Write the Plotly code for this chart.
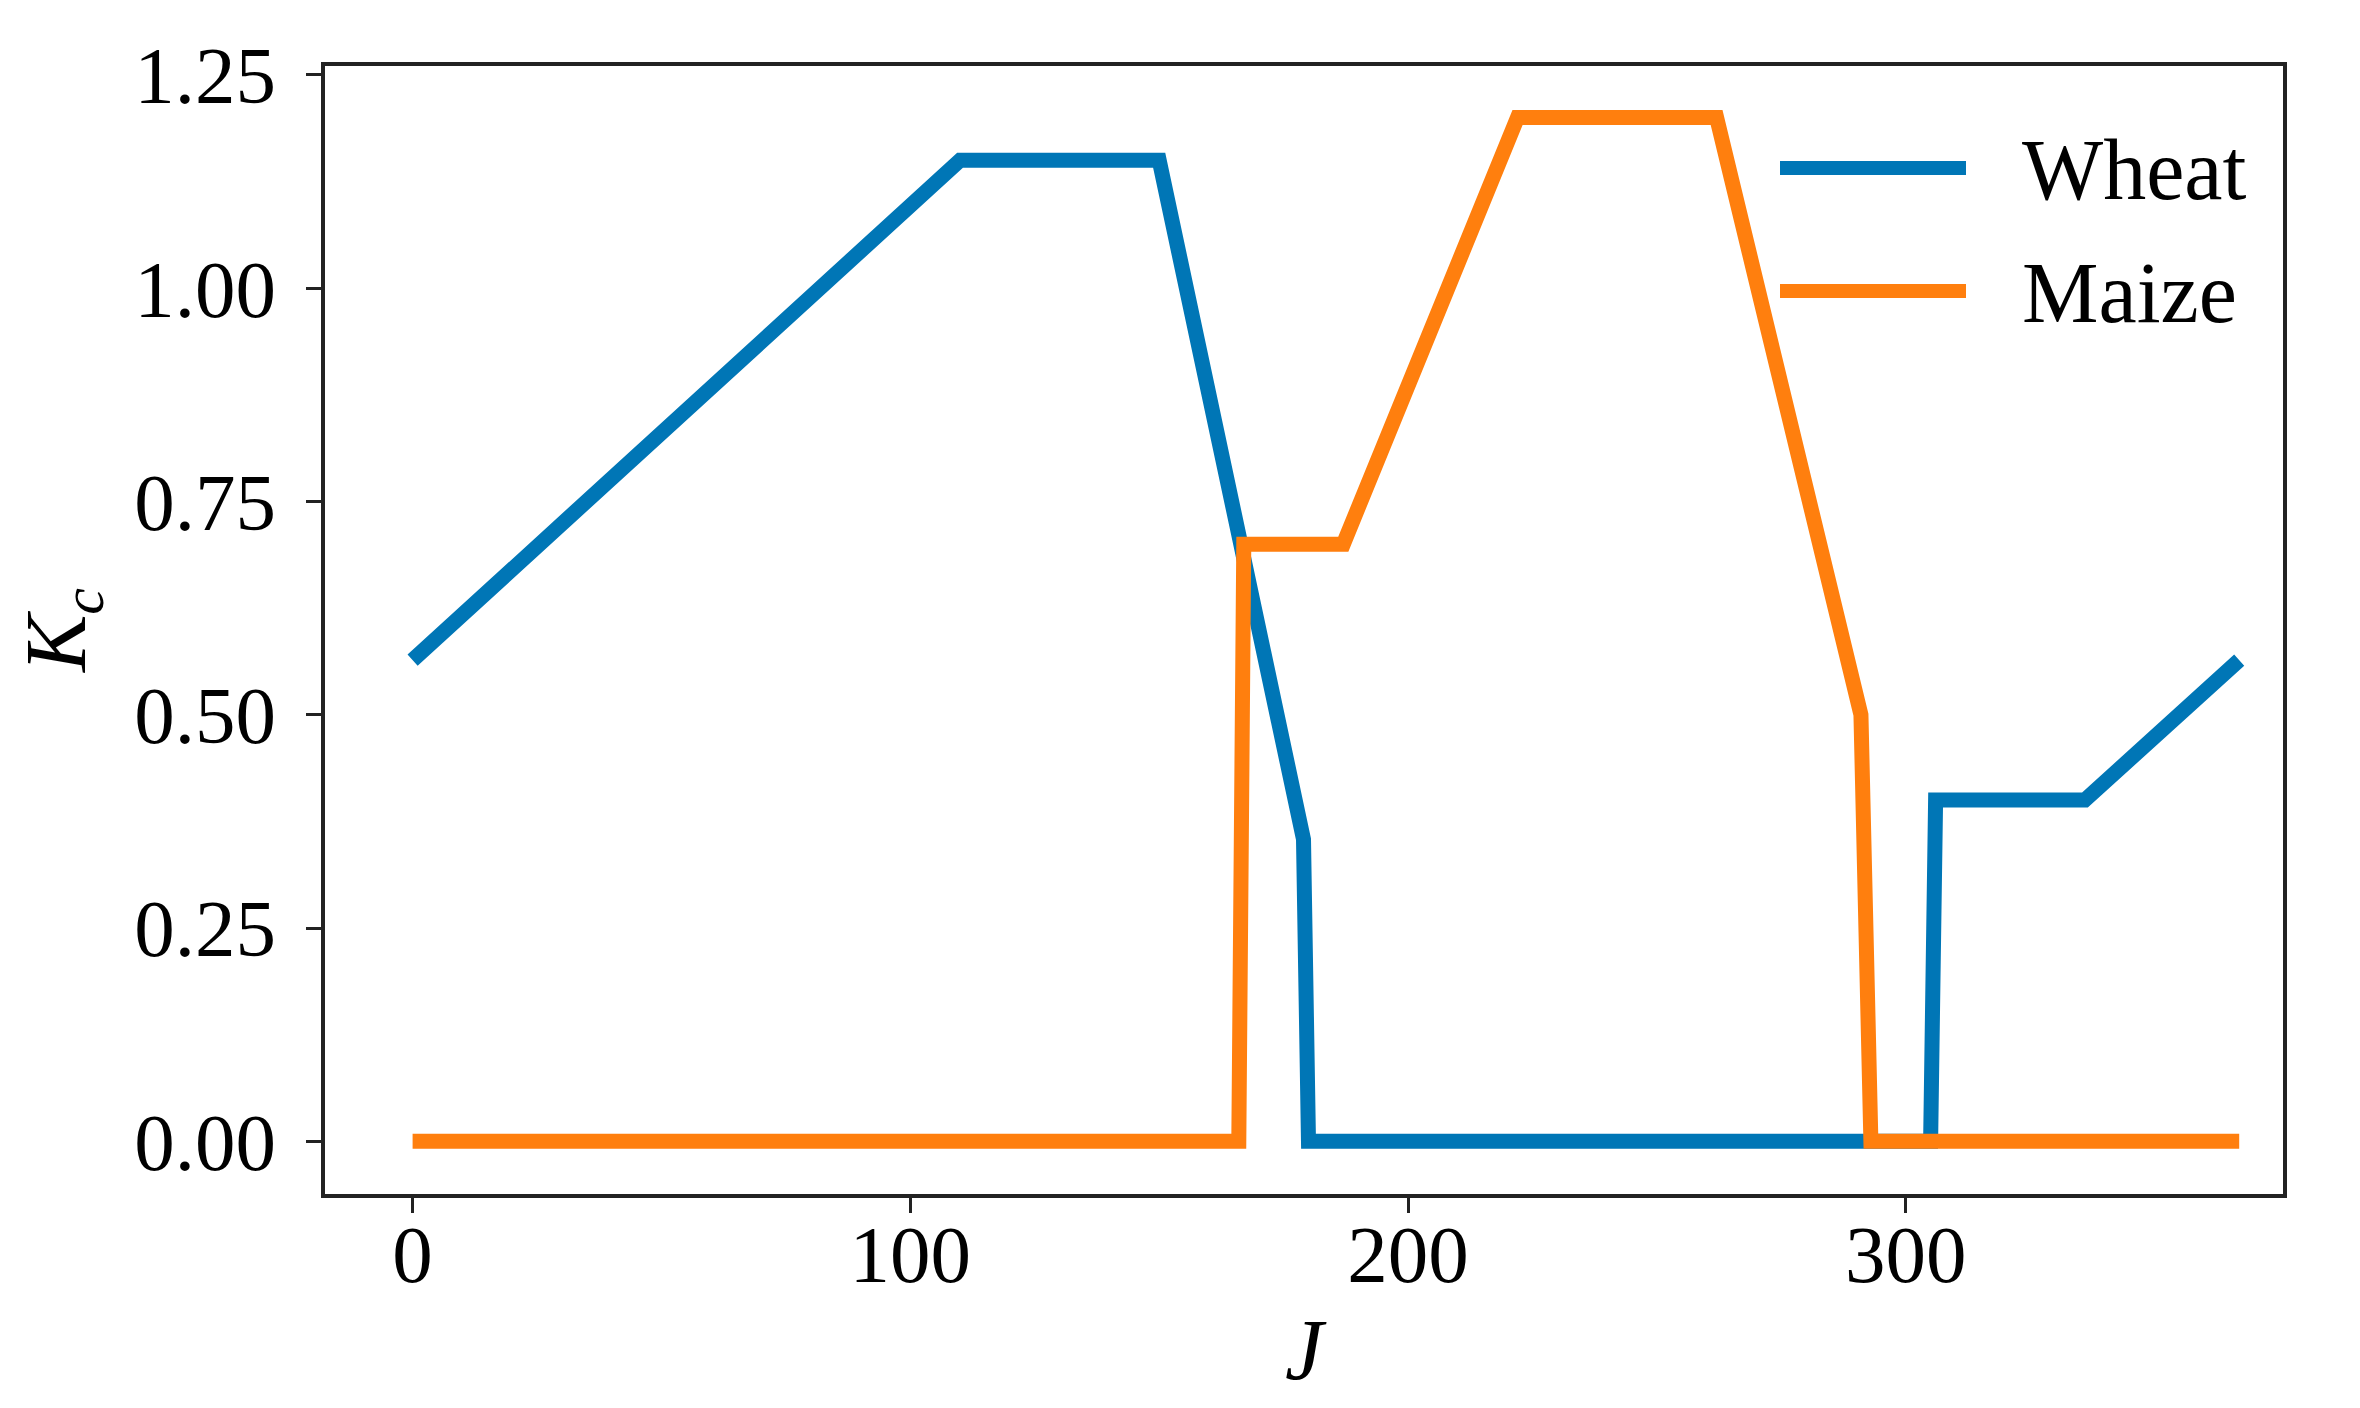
import plotly.graph_objects as go

# Day of year (J) breakpoints and crop coefficient (Kc) values
wheat_j = [0, 110, 150, 179, 180, 305, 306, 336, 367]
wheat_kc = [0.564, 1.15, 1.15, 0.354, 0.0, 0.0, 0.40, 0.40, 0.564]

maize_j = [0, 166, 167, 187, 222, 262, 291, 293, 367]
maize_kc = [0.0, 0.0, 0.70, 0.70, 1.20, 1.20, 0.50, 0.0, 0.0]

series_names = ["Wheat", "Maize"]
series_colors = ["#0076b6", "#ff7f0e"]

x_ticks = [0, 100, 200, 300]
y_ticks = [0.0, 0.25, 0.50, 0.75, 1.00, 1.25]

FONT = "Liberation Serif"
FS_TICK = 81
FS = 86

W, H = 2360, 1408
ML, MR, MT, MB = 317, 85, 58, 222

fig = go.Figure()
for xs, ys, name, col in zip([wheat_j, maize_j], [wheat_kc, maize_kc], series_names, series_colors):
    fig.add_trace(go.Scatter(x=xs, y=ys, mode="lines", name=name,
                             line=dict(color=col, width=15), showlegend=False))

axis_common = dict(showgrid=False, zeroline=False, showline=True, mirror=True,
                   linecolor="#222222", linewidth=3.5, ticks="outside", ticklen=15,
                   tickwidth=3, tickcolor="#222222",
                   tickfont=dict(family=FONT, size=FS_TICK, color="black"))

fig.update_xaxes(range=[-17.6, 375.8], tickvals=x_ticks, ticktext=[str(v) for v in x_ticks],
                 title=dict(text="<i>J</i>", font=dict(family=FONT, size=FS, color="black"), standoff=21),
                 ticklabelstandoff=-28, **axis_common)
fig.update_yaxes(range=[-0.0618, 1.2605], tickvals=y_ticks, ticktext=[f"{v:.2f}" for v in y_ticks],
                 title=dict(text="<i>K</i><sub><i>c</i></sub>", font=dict(family=FONT, size=FS, color="black"), standoff=25),
                 ticklabelstandoff=14, **axis_common)

# Manual legend (long line samples like the original)
pw, ph = W - ML - MR, H - MT - MB
def px_x(p):
    return (p - ML) / pw
def px_y(p):
    return (H - MB - p) / ph

legend_rows = [160, 283]
for name, col, yrow in zip(series_names, series_colors, legend_rows):
    fig.add_shape(type="line", xref="paper", yref="paper",
                  x0=px_x(1772), x1=px_x(1958), y0=px_y(yrow), y1=px_y(yrow),
                  line=dict(color=col, width=14))
    fig.add_annotation(xref="paper", yref="paper", x=px_x(2012), y=px_y(yrow + 2),
                       xanchor="left", yanchor="middle", text=name, showarrow=False,
                       font=dict(family=FONT, size=FS, color="black"))

fig.update_layout(width=W, height=H, margin=dict(l=ML, r=MR, t=MT, b=MB, autoexpand=False),
                  plot_bgcolor="white", paper_bgcolor="white")

fig.write_html("out.html")
